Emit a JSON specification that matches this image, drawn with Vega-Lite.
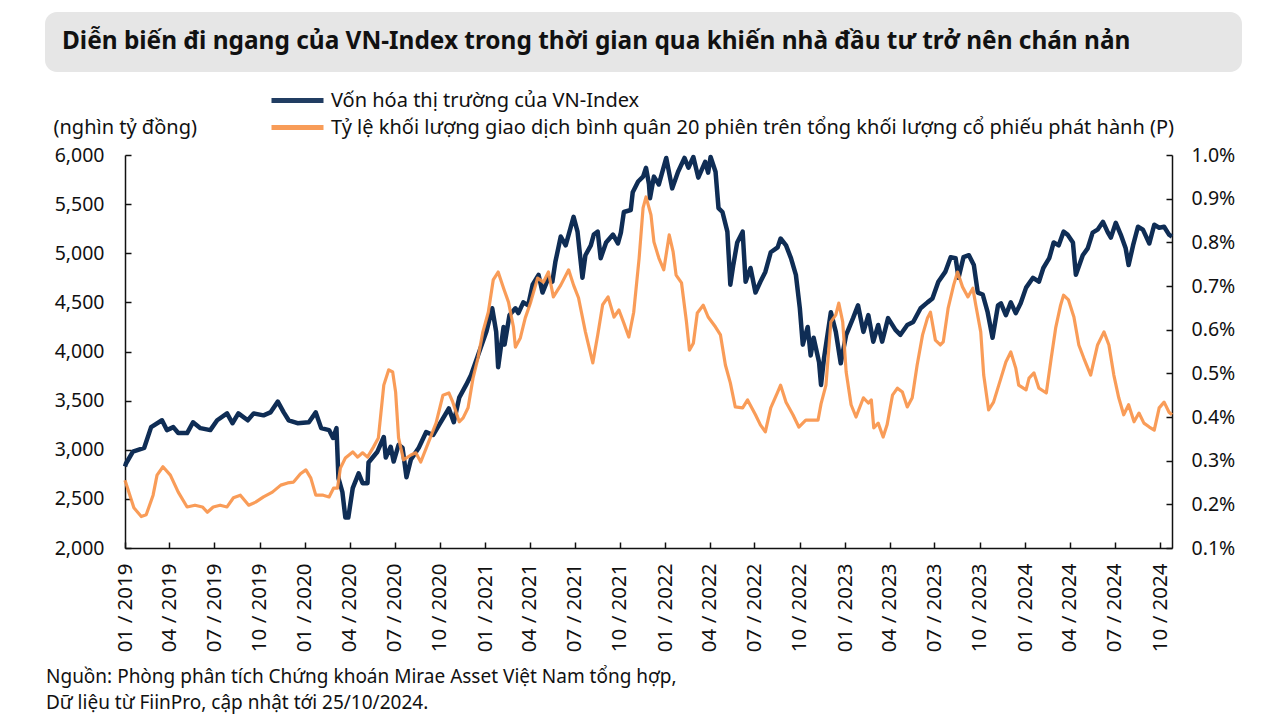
{
  "$schema": "https://vega.github.io/schema/vega-lite/v6.json",
  "padding": {"left": 45, "top": 12, "right": 20, "bottom": 6},
  "background": "white",
  "config": {"font": "Noto Sans", "view": {"stroke": null}, "concat": {"spacing": 0}},
  "spacing": 16,
  "resolve": {"scale": {"color": "independent"}, "legend": {"color": "independent"}},
  "datasets": {
    "vonhoa": [
      {"d":"2019-01-01","v":2830},{"d":"2019-01-03","v":2860},{"d":"2019-01-17","v":2980},{"d":"2019-02-09","v":3020},{"d":"2019-02-23","v":3230},{"d":"2019-03-17","v":3300},{"d":"2019-03-27","v":3200},{"d":"2019-04-09","v":3230},{"d":"2019-04-19","v":3170},{"d":"2019-05-07","v":3170},{"d":"2019-05-19","v":3280},{"d":"2019-06-03","v":3220},{"d":"2019-06-23","v":3200},{"d":"2019-07-07","v":3300},{"d":"2019-07-27","v":3370},{"d":"2019-08-07","v":3270},{"d":"2019-08-19","v":3370},{"d":"2019-09-07","v":3300},{"d":"2019-09-19","v":3370},{"d":"2019-10-09","v":3350},{"d":"2019-10-23","v":3380},{"d":"2019-11-07","v":3490},{"d":"2019-11-19","v":3380},{"d":"2019-11-29","v":3300},{"d":"2019-12-17","v":3270},
      {"d":"2020-01-09","v":3280},{"d":"2020-01-23","v":3380},{"d":"2020-02-03","v":3220},{"d":"2020-02-19","v":3200},{"d":"2020-02-27","v":3120},{"d":"2020-03-05","v":3220},{"d":"2020-03-09","v":2710},{"d":"2020-03-17","v":2570},{"d":"2020-03-23","v":2310},{"d":"2020-03-29","v":2310},{"d":"2020-04-07","v":2610},{"d":"2020-04-19","v":2760},{"d":"2020-04-27","v":2660},{"d":"2020-05-07","v":2660},{"d":"2020-05-09","v":2870},{"d":"2020-05-27","v":2980},{"d":"2020-06-09","v":3130},{"d":"2020-06-13","v":2920},{"d":"2020-06-23","v":3030},{"d":"2020-06-29","v":2880},{"d":"2020-07-09","v":3050},{"d":"2020-07-17","v":3020},{"d":"2020-07-25","v":2720},{"d":"2020-08-03","v":2900},{"d":"2020-08-19","v":3020},{"d":"2020-09-03","v":3180},{"d":"2020-09-17","v":3150},{"d":"2020-09-29","v":3250},{"d":"2020-10-19","v":3420},{"d":"2020-10-29","v":3280},{"d":"2020-11-09","v":3530},{"d":"2020-11-23","v":3660},{"d":"2020-12-03","v":3760},{"d":"2020-12-17","v":3960},
      {"d":"2021-01-03","v":4200},{"d":"2021-01-15","v":4440},{"d":"2021-01-23","v":4200},{"d":"2021-01-27","v":3840},{"d":"2021-02-07","v":4250},{"d":"2021-02-09","v":4070},{"d":"2021-02-19","v":4370},{"d":"2021-03-03","v":4440},{"d":"2021-03-09","v":4390},{"d":"2021-03-19","v":4500},{"d":"2021-03-29","v":4470},{"d":"2021-04-07","v":4680},{"d":"2021-04-19","v":4780},{"d":"2021-04-27","v":4600},{"d":"2021-05-09","v":4750},{"d":"2021-05-17","v":4710},{"d":"2021-05-23","v":4910},{"d":"2021-06-03","v":5170},{"d":"2021-06-13","v":5080},{"d":"2021-06-23","v":5260},{"d":"2021-06-29","v":5370},{"d":"2021-07-07","v":5220},{"d":"2021-07-17","v":4750},{"d":"2021-07-23","v":4980},{"d":"2021-08-03","v":5080},{"d":"2021-08-09","v":5190},{"d":"2021-08-17","v":5220},{"d":"2021-08-23","v":4950},{"d":"2021-09-03","v":5110},{"d":"2021-09-17","v":5190},{"d":"2021-09-27","v":5100},{"d":"2021-10-03","v":5210},{"d":"2021-10-09","v":5420},{"d":"2021-10-23","v":5440},{"d":"2021-10-27","v":5620},{"d":"2021-11-07","v":5730},{"d":"2021-11-17","v":5780},{"d":"2021-11-23","v":5870},{"d":"2021-11-29","v":5700},{"d":"2021-12-01","v":5560},{"d":"2021-12-09","v":5780},{"d":"2021-12-19","v":5700},
      {"d":"2022-01-03","v":5970},{"d":"2022-01-15","v":5660},{"d":"2022-01-27","v":5830},{"d":"2022-02-09","v":5970},{"d":"2022-02-17","v":5870},{"d":"2022-02-27","v":5980},{"d":"2022-03-09","v":5770},{"d":"2022-03-23","v":5930},{"d":"2022-03-29","v":5820},{"d":"2022-04-03","v":5980},{"d":"2022-04-13","v":5830},{"d":"2022-04-19","v":5460},{"d":"2022-04-27","v":5420},{"d":"2022-05-07","v":5220},{"d":"2022-05-13","v":4680},{"d":"2022-05-19","v":4880},{"d":"2022-05-27","v":5110},{"d":"2022-06-07","v":5220},{"d":"2022-06-13","v":4710},{"d":"2022-06-23","v":4850},{"d":"2022-07-03","v":4600},{"d":"2022-07-13","v":4710},{"d":"2022-07-23","v":4810},{"d":"2022-08-03","v":5010},{"d":"2022-08-17","v":5060},{"d":"2022-08-23","v":5150},{"d":"2022-09-03","v":5080},{"d":"2022-09-13","v":4950},{"d":"2022-09-23","v":4780},{"d":"2022-10-01","v":4440},{"d":"2022-10-07","v":4070},{"d":"2022-10-17","v":4250},{"d":"2022-10-23","v":3960},{"d":"2022-10-29","v":4140},{"d":"2022-11-09","v":3890},{"d":"2022-11-13","v":3660},{"d":"2022-11-19","v":3930},{"d":"2022-12-03","v":4400},{"d":"2022-12-13","v":4200},{"d":"2022-12-23","v":3880},
      {"d":"2023-01-03","v":4170},{"d":"2023-01-17","v":4340},{"d":"2023-01-27","v":4470},{"d":"2023-02-07","v":4200},{"d":"2023-02-17","v":4370},{"d":"2023-02-27","v":4100},{"d":"2023-03-09","v":4270},{"d":"2023-03-17","v":4100},{"d":"2023-03-29","v":4340},{"d":"2023-04-13","v":4220},{"d":"2023-04-23","v":4170},{"d":"2023-05-07","v":4270},{"d":"2023-05-19","v":4300},{"d":"2023-06-03","v":4440},{"d":"2023-06-17","v":4500},{"d":"2023-06-27","v":4540},{"d":"2023-07-09","v":4710},{"d":"2023-07-23","v":4810},{"d":"2023-08-03","v":4960},{"d":"2023-08-13","v":4950},{"d":"2023-08-19","v":4750},{"d":"2023-08-29","v":4960},{"d":"2023-09-09","v":4980},{"d":"2023-09-19","v":4880},{"d":"2023-09-27","v":4600},{"d":"2023-10-07","v":4580},{"d":"2023-10-17","v":4400},{"d":"2023-10-27","v":4140},{"d":"2023-11-07","v":4470},{"d":"2023-11-13","v":4490},{"d":"2023-11-23","v":4370},{"d":"2023-12-03","v":4500},{"d":"2023-12-13","v":4390},{"d":"2023-12-23","v":4490},
      {"d":"2024-01-03","v":4650},{"d":"2024-01-17","v":4750},{"d":"2024-01-29","v":4710},{"d":"2024-02-07","v":4850},{"d":"2024-02-19","v":4950},{"d":"2024-02-28","v":5110},{"d":"2024-03-09","v":5080},{"d":"2024-03-19","v":5220},{"d":"2024-03-27","v":5190},{"d":"2024-04-07","v":5110},{"d":"2024-04-13","v":4780},{"d":"2024-04-27","v":4980},{"d":"2024-05-07","v":5050},{"d":"2024-05-17","v":5210},{"d":"2024-05-27","v":5240},{"d":"2024-06-07","v":5320},{"d":"2024-06-17","v":5210},{"d":"2024-06-23","v":5160},{"d":"2024-07-03","v":5310},{"d":"2024-07-13","v":5190},{"d":"2024-07-23","v":5050},{"d":"2024-07-29","v":4880},{"d":"2024-08-07","v":5080},{"d":"2024-08-17","v":5270},{"d":"2024-08-27","v":5240},{"d":"2024-09-09","v":5100},{"d":"2024-09-19","v":5290},{"d":"2024-09-29","v":5260},{"d":"2024-10-09","v":5270},{"d":"2024-10-19","v":5190},{"d":"2024-10-25","v":5170}
    ],
    "tyle": [
      {"d":"2019-01-01","p":0.255},{"d":"2019-01-19","p":0.192},{"d":"2019-02-03","p":0.172},{"d":"2019-02-13","p":0.176},{"d":"2019-02-27","p":0.221},{"d":"2019-03-07","p":0.267},{"d":"2019-03-19","p":0.286},{"d":"2019-04-03","p":0.267},{"d":"2019-04-19","p":0.228},{"d":"2019-05-07","p":0.194},{"d":"2019-05-23","p":0.198},{"d":"2019-06-07","p":0.194},{"d":"2019-06-17","p":0.182},{"d":"2019-06-29","p":0.194},{"d":"2019-07-13","p":0.198},{"d":"2019-07-27","p":0.194},{"d":"2019-08-09","p":0.215},{"d":"2019-08-23","p":0.221},{"d":"2019-09-09","p":0.198},{"d":"2019-09-23","p":0.205},{"d":"2019-10-09","p":0.217},{"d":"2019-10-27","p":0.228},{"d":"2019-11-13","p":0.244},{"d":"2019-11-27","p":0.249},{"d":"2019-12-09","p":0.251},{"d":"2019-12-23","p":0.270},
      {"d":"2020-01-03","p":0.279},{"d":"2020-01-13","p":0.260},{"d":"2020-01-23","p":0.221},{"d":"2020-02-07","p":0.221},{"d":"2020-02-19","p":0.217},{"d":"2020-02-28","p":0.237},{"d":"2020-03-07","p":0.237},{"d":"2020-03-13","p":0.283},{"d":"2020-03-23","p":0.306},{"d":"2020-04-07","p":0.320},{"d":"2020-04-17","p":0.308},{"d":"2020-04-27","p":0.318},{"d":"2020-05-07","p":0.308},{"d":"2020-05-19","p":0.331},{"d":"2020-05-29","p":0.352},{"d":"2020-06-09","p":0.473},{"d":"2020-06-19","p":0.508},{"d":"2020-06-27","p":0.503},{"d":"2020-07-03","p":0.457},{"d":"2020-07-09","p":0.352},{"d":"2020-07-19","p":0.302},{"d":"2020-08-03","p":0.313},{"d":"2020-08-13","p":0.318},{"d":"2020-08-23","p":0.297},{"d":"2020-09-07","p":0.340},{"d":"2020-09-23","p":0.386},{"d":"2020-10-07","p":0.450},{"d":"2020-10-19","p":0.455},{"d":"2020-10-27","p":0.434},{"d":"2020-11-09","p":0.389},{"d":"2020-11-17","p":0.398},{"d":"2020-11-27","p":0.421},{"d":"2020-12-07","p":0.489},{"d":"2020-12-17","p":0.535},{"d":"2020-12-27","p":0.595},
      {"d":"2021-01-07","p":0.640},{"d":"2021-01-17","p":0.714},{"d":"2021-01-27","p":0.732},{"d":"2021-02-07","p":0.695},{"d":"2021-02-17","p":0.663},{"d":"2021-02-27","p":0.606},{"d":"2021-03-03","p":0.560},{"d":"2021-03-13","p":0.581},{"d":"2021-03-23","p":0.627},{"d":"2021-04-03","p":0.663},{"d":"2021-04-17","p":0.718},{"d":"2021-04-29","p":0.709},{"d":"2021-05-09","p":0.732},{"d":"2021-05-19","p":0.675},{"d":"2021-06-03","p":0.702},{"d":"2021-06-19","p":0.737},{"d":"2021-06-29","p":0.702},{"d":"2021-07-09","p":0.673},{"d":"2021-07-23","p":0.595},{"d":"2021-08-07","p":0.524},{"d":"2021-08-17","p":0.588},{"d":"2021-08-27","p":0.657},{"d":"2021-09-07","p":0.675},{"d":"2021-09-19","p":0.629},{"d":"2021-09-29","p":0.645},{"d":"2021-10-09","p":0.615},{"d":"2021-10-19","p":0.583},{"d":"2021-10-29","p":0.640},{"d":"2021-11-09","p":0.764},{"d":"2021-11-17","p":0.879},{"d":"2021-11-23","p":0.904},{"d":"2021-12-03","p":0.863},{"d":"2021-12-09","p":0.801},{"d":"2021-12-19","p":0.764},{"d":"2021-12-29","p":0.737},
      {"d":"2022-01-09","p":0.817},{"d":"2022-01-17","p":0.778},{"d":"2022-01-23","p":0.725},{"d":"2022-02-03","p":0.707},{"d":"2022-02-13","p":0.618},{"d":"2022-02-19","p":0.553},{"d":"2022-02-27","p":0.569},{"d":"2022-03-07","p":0.638},{"d":"2022-03-19","p":0.656},{"d":"2022-03-29","p":0.629},{"d":"2022-04-13","p":0.606},{"d":"2022-04-23","p":0.588},{"d":"2022-05-03","p":0.519},{"d":"2022-05-13","p":0.478},{"d":"2022-05-23","p":0.423},{"d":"2022-06-07","p":0.421},{"d":"2022-06-17","p":0.439},{"d":"2022-07-03","p":0.405},{"d":"2022-07-13","p":0.382},{"d":"2022-07-23","p":0.366},{"d":"2022-08-03","p":0.421},{"d":"2022-08-17","p":0.457},{"d":"2022-08-23","p":0.473},{"d":"2022-09-03","p":0.434},{"d":"2022-09-17","p":0.405},{"d":"2022-09-29","p":0.377},{"d":"2022-10-13","p":0.393},{"d":"2022-10-27","p":0.393},{"d":"2022-11-07","p":0.393},{"d":"2022-11-13","p":0.430},{"d":"2022-11-23","p":0.473},{"d":"2022-12-03","p":0.618},{"d":"2022-12-13","p":0.634},{"d":"2022-12-19","p":0.661},{"d":"2022-12-27","p":0.618},
      {"d":"2023-01-03","p":0.503},{"d":"2023-01-13","p":0.428},{"d":"2023-01-23","p":0.400},{"d":"2023-02-07","p":0.444},{"d":"2023-02-17","p":0.432},{"d":"2023-02-23","p":0.439},{"d":"2023-02-28","p":0.375},{"d":"2023-03-09","p":0.386},{"d":"2023-03-19","p":0.354},{"d":"2023-03-27","p":0.382},{"d":"2023-04-07","p":0.450},{"d":"2023-04-17","p":0.466},{"d":"2023-04-27","p":0.457},{"d":"2023-05-07","p":0.423},{"d":"2023-05-17","p":0.444},{"d":"2023-05-27","p":0.519},{"d":"2023-06-07","p":0.588},{"d":"2023-06-17","p":0.627},{"d":"2023-06-23","p":0.640},{"d":"2023-07-03","p":0.576},{"d":"2023-07-13","p":0.565},{"d":"2023-07-19","p":0.572},{"d":"2023-07-29","p":0.650},{"d":"2023-08-09","p":0.702},{"d":"2023-08-17","p":0.732},{"d":"2023-08-27","p":0.698},{"d":"2023-09-07","p":0.675},{"d":"2023-09-17","p":0.695},{"d":"2023-09-23","p":0.656},{"d":"2023-10-03","p":0.595},{"d":"2023-10-09","p":0.496},{"d":"2023-10-19","p":0.416},{"d":"2023-10-29","p":0.434},{"d":"2023-11-13","p":0.489},{"d":"2023-11-23","p":0.526},{"d":"2023-12-03","p":0.549},{"d":"2023-12-13","p":0.512},{"d":"2023-12-19","p":0.473},
      {"d":"2024-01-03","p":0.462},{"d":"2024-01-09","p":0.489},{"d":"2024-01-19","p":0.501},{"d":"2024-01-29","p":0.466},{"d":"2024-02-13","p":0.455},{"d":"2024-02-23","p":0.535},{"d":"2024-03-03","p":0.604},{"d":"2024-03-13","p":0.656},{"d":"2024-03-19","p":0.679},{"d":"2024-03-29","p":0.668},{"d":"2024-04-09","p":0.629},{"d":"2024-04-19","p":0.565},{"d":"2024-04-29","p":0.535},{"d":"2024-05-13","p":0.496},{"d":"2024-05-19","p":0.526},{"d":"2024-05-27","p":0.565},{"d":"2024-06-09","p":0.595},{"d":"2024-06-19","p":0.565},{"d":"2024-06-29","p":0.496},{"d":"2024-07-09","p":0.444},{"d":"2024-07-19","p":0.405},{"d":"2024-07-29","p":0.428},{"d":"2024-08-09","p":0.389},{"d":"2024-08-19","p":0.409},{"d":"2024-08-29","p":0.386},{"d":"2024-09-09","p":0.377},{"d":"2024-09-19","p":0.370},{"d":"2024-09-29","p":0.421},{"d":"2024-10-09","p":0.434},{"d":"2024-10-19","p":0.411},{"d":"2024-10-25","p":0.405}
    ],
    "tieude": [{"t": "Diễn biến đi ngang của VN-Index trong thời gian qua khiến nhà đầu tư trở nên chán nản"}],
    "trong": []
  },
  "vconcat": [
    {
      "width": 1197,
      "height": 60,
      "view": {"fill": "#e6e6e6", "stroke": null, "cornerRadius": 12},
      "data": {"name": "tieude"},
      "mark": {"type": "text", "align": "left", "baseline": "middle", "dx": -581.5, "font": "Noto Sans", "fontWeight": "bold", "fontSize": 24.4, "color": "#111111"},
      "encoding": {"text": {"field": "t", "type": "nominal"}}
    },
    {
      "spacing": 0,
      "resolve": {"scale": {"color": "independent"}, "legend": {"color": "independent"}},
      "hconcat": [
        {
          "width": 0.01,
          "height": 1,
          "view": {"stroke": null, "fill": null},
          "data": {"name": "trong"},
          "mark": {"type": "text"},
          "encoding": {}
        },
        {
          "width": 1047,
          "height": 393,
          "view": {"stroke": null},
          "title": {
            "text": ["Nguồn: Phòng phân tích Chứng khoán Mirae Asset Việt Nam tổng hợp,", "Dữ liệu từ FiinPro, cập nhật tới 25/10/2024."],
            "orient": "bottom", "anchor": "start", "frame": "bounds",
            "font": "Noto Sans", "fontSize": 19, "fontWeight": "normal", "color": "#111111",
            "lineHeight": 26, "offset": 16, "dx": -7
          },
          "resolve": {"scale": {"y": "independent"}},
          "layer": [
            {
              "data": {"name": "vonhoa"},
              "mark": {"type": "line", "color": "#0f2d55", "strokeWidth": 4.5, "strokeJoin": "round"},
              "encoding": {
                "x": {
                  "field": "d", "type": "temporal",
                  "scale": {"type": "utc", "domain": [{"year": 2019, "month": 1, "date": 1, "utc": true}, {"year": 2024, "month": 10, "date": 25, "utc": true}], "nice": false},
                  "axis": {
                    "title": null, "labelExpr": "utcFormat(datum.value, '%m / %Y')",
                    "tickCount": {"interval": "month", "step": 3},
                    "labelAngle": 270, "labelAlign": "right", "labelBaseline": "middle",
                    "labelFontSize": 20.5, "labelFont": "Noto Sans", "labelColor": "#111111",
                    "labelPadding": 21, "tickSize": -6, "tickColor": "#111111", "tickWidth": 1.5,
                    "domainColor": "#111111", "domainWidth": 1.5, "grid": false, "labelOverlap": false, "labelFlush": false
                  }
                },
                "y": {
                  "field": "v", "type": "quantitative",
                  "scale": {"domain": [2000, 6000], "nice": false, "zero": false},
                  "axis": {
                    "orient": "left", "values": [2000, 2500, 3000, 3500, 4000, 4500, 5000, 5500, 6000], "format": ",d",
                    "title": "(nghìn tỷ đồng)", "titleAngle": 0, "titleAlign": "left", "titleBaseline": "alphabetic",
                    "titleX": -72, "titleY": -22, "titleFont": "Noto Sans", "titleFontSize": 20, "titleFontWeight": "normal", "titleColor": "#111111",
                    "labelFontSize": 19.5, "labelFont": "Noto Sans", "labelColor": "#111111",
                    "labelPadding": 27, "tickSize": -6, "tickColor": "#111111", "tickWidth": 1.5,
                    "domainColor": "#111111", "domainWidth": 1.5, "grid": false
                  }
                },
                "color": {
                  "datum": "Vốn hóa thị trường của VN-Index", "type": "nominal",
                  "scale": {"domain": ["Vốn hóa thị trường của VN-Index", "Tỷ lệ khối lượng giao dịch bình quân 20 phiên trên tổng khối lượng cổ phiếu phát hành (P)"], "range": ["#0f2d55", "#f8944a"]},
                  "legend": {
                    "title": null, "orient": "none", "legendX": 160, "legendY": -67, "direction": "vertical",
                    "symbolType": "M-2.6,0H2.6", "symbolSize": 400, "symbolStrokeWidth": 5,
                    "labelFontSize": 20, "labelFont": "Noto Sans", "labelColor": "#111111", "labelLimit": 1000, "labelOffset": 21,
                    "rowPadding": 4, "padding": 0
                  }
                }
              }
            },
            {
              "data": {"name": "tyle"},
              "mark": {"type": "line", "color": "#f8944a", "strokeWidth": 3.2, "strokeJoin": "round", "opacity": 0.92},
              "encoding": {
                "x": {"field": "d", "type": "temporal"},
                "y": {
                  "field": "p", "type": "quantitative",
                  "scale": {"domain": [0.1, 1.0], "nice": false, "zero": false},
                  "axis": {
                    "orient": "right", "values": [0.1, 0.2, 0.3, 0.4, 0.5, 0.6, 0.7, 0.8, 0.9, 1.0],
                    "labelExpr": "format(datum.value, '.1f') + '%'", "title": null,
                    "labelFontSize": 19.5, "labelFont": "Noto Sans", "labelColor": "#111111",
                    "labelPadding": 25, "tickSize": -6, "tickColor": "#111111", "tickWidth": 1.5,
                    "domainColor": "#111111", "domainWidth": 1.5, "grid": false
                  }
                },
                "color": {"datum": "Tỷ lệ khối lượng giao dịch bình quân 20 phiên trên tổng khối lượng cổ phiếu phát hành (P)", "type": "nominal"}
              }
            }
          ]
        }
      ]
    }
  ]
}
